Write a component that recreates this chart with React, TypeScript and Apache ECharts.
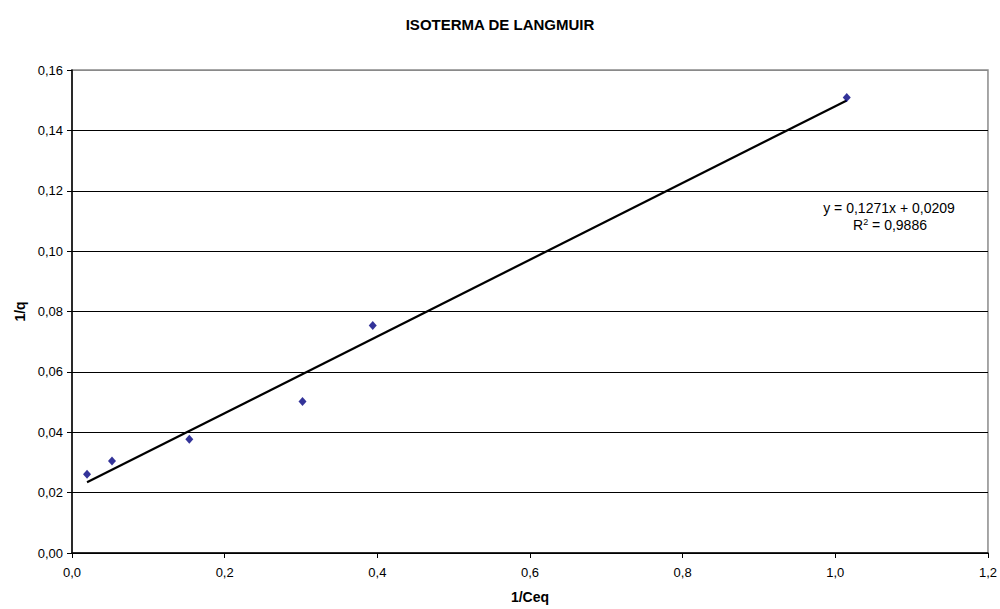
import React, { useEffect, useRef } from "react";
import * as echarts from "echarts";

// Linearised Langmuir isotherm: 1/q against 1/Ceq
const invCeq = [0.0197, 0.0524, 0.1537, 0.302, 0.394, 1.015];
const invQ = [0.0261, 0.0305, 0.0377, 0.0502, 0.0754, 0.1509];

// Least-squares fit as printed on the chart
const slope = 0.1271;
const intercept = 0.0209;
const rSquared = 0.9886;

const xTicks = { min: 0, max: 1.2, interval: 0.2 };
const yTicks = { min: 0, max: 0.16, interval: 0.02 };

const comma = (v: number, d: number) => v.toFixed(d).replace(".", ",");

export default function App() {
  const ref = useRef<HTMLDivElement>(null);

  useEffect(() => {
    document.body.style.margin = "0";
    if (!ref.current) return;
    const chart = echarts.init(ref.current, undefined, { renderer: "svg" });

    const xStart = Math.min(...invCeq);
    const xEnd = Math.max(...invCeq);
    const fitLine = [
      [xStart, slope * xStart + intercept],
      [xEnd, slope * xEnd + intercept],
    ];

    const font = "Arial, 'Liberation Sans', sans-serif";
    const splitColors = [
      "#000", "#000", "#000", "#000", "#000", "#000", "#000", "#000", "#8a8a8a",
    ];

    chart.setOption({
      animation: false,
      backgroundColor: "#fff",
      textStyle: { fontFamily: font },
      title: {
        text: "ISOTERMA DE LANGMUIR",
        left: "center",
        top: 12,
        textStyle: { fontSize: 15, fontWeight: "bold", color: "#000", fontFamily: font },
      },
      grid: {
        left: 72,
        right: 11,
        top: 70,
        bottom: 54,
        show: true,
        borderColor: "#8a8a8a",
        borderWidth: 1.5,
        backgroundColor: "#fff",
      },
      xAxis: {
        type: "value",
        min: xTicks.min,
        max: xTicks.max,
        interval: xTicks.interval,
        name: "1/Ceq",
        nameLocation: "middle",
        nameGap: 37,
        nameTextStyle: { fontSize: 14, fontWeight: "bold", color: "#000", fontFamily: font },
        axisLine: { lineStyle: { color: "#000", width: 1.5 } },
        axisTick: { show: true, length: 5, lineStyle: { color: "#000" } },
        axisLabel: {
          margin: 13,
          fontSize: 13,
          color: "#000",
          fontFamily: font,
          formatter: (v: number) => comma(v, 1),
        },
        splitLine: { show: false },
      },
      yAxis: {
        type: "value",
        min: yTicks.min,
        max: yTicks.max,
        interval: yTicks.interval,
        name: "1/q",
        nameLocation: "middle",
        nameGap: 43,
        nameTextStyle: { fontSize: 14, fontWeight: "bold", color: "#000", fontFamily: font },
        axisLine: { show: true, lineStyle: { color: "#000", width: 1.5 } },
        axisTick: { show: true, length: 5, lineStyle: { color: "#000" } },
        axisLabel: {
          margin: 9,
          fontSize: 13,
          color: "#000",
          fontFamily: font,
          formatter: (v: number) => comma(v, 2),
        },
        splitLine: { show: true, lineStyle: { color: splitColors, width: 1 } },
      },
      series: [
        {
          type: "line",
          data: fitLine,
          symbol: "none",
          lineStyle: { color: "#000", width: 2.2 },
          z: 2,
        },
        {
          type: "scatter",
          data: invCeq.map((x, i) => [x, invQ[i]]),
          symbol: "diamond",
          symbolSize: [8, 9],
          itemStyle: { color: "#000080" },
          z: 3,
        },
      ],
      graphic: [
        {
          type: "text",
          x: 889,
          y: 208,
          style: {
            text: `y = ${comma(slope, 4)}x + ${comma(intercept, 4)}`,
            font: `14px ${font}`,
            fill: "#000",
            align: "center",
            verticalAlign: "middle",
          },
        },
        {
          type: "text",
          x: 890,
          y: 225,
          style: {
            text: `R{sup|2} = ${comma(rSquared, 4)}`,
            font: `14px ${font}`,
            fill: "#000",
            align: "center",
            verticalAlign: "middle",
            rich: {
              sup: { fontSize: 9, verticalAlign: "top", padding: [0, 0, 7, 0], fill: "#000" },
            },
          },
        },
      ],
    });

    return () => chart.dispose();
  }, []);

  return <div ref={ref} style={{ width: 1000, height: 609 }} />;
}
